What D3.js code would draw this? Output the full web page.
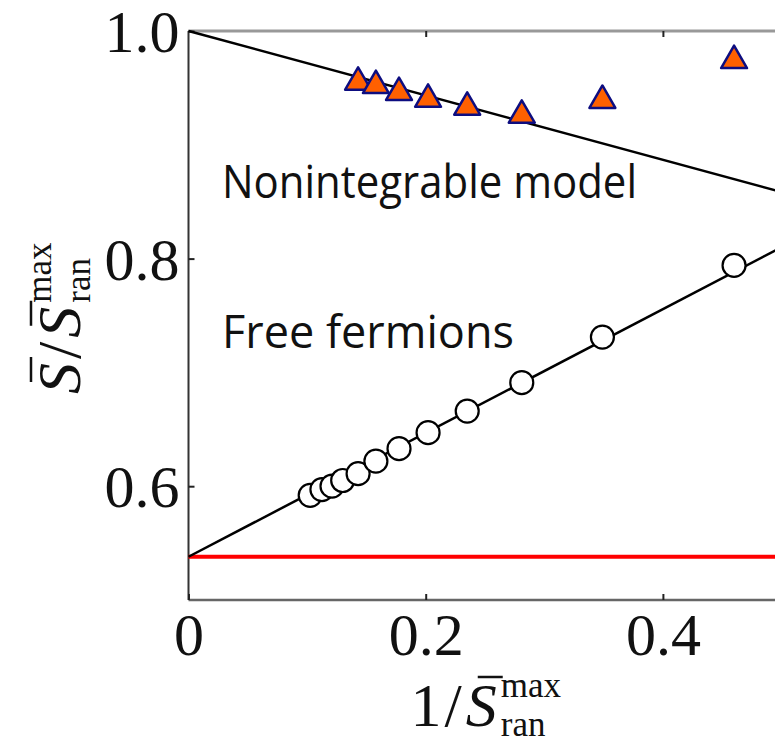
<!DOCTYPE html>
<html>
<head>
<meta charset="utf-8">
<script src="https://cdn.jsdelivr.net/npm/d3@7"></script>
<style>
  html, body { margin: 0; padding: 0; background: #fff; }
  svg { display: block; }
</style>
</head>
<body>
<div id="chart"></div>
<script>
// inverse of max random entropy, shared by both data sets
const invS = [0.1026, 0.1125, 0.121, 0.130, 0.143, 0.158, 0.1775, 0.202, 0.235, 0.281, 0.349, 0.460];
const freeFermions = [0.592, 0.597, 0.600, 0.605, 0.611, 0.622, 0.633, 0.647, 0.666, 0.691, 0.731, 0.794];

const invSNonint = [0.143, 0.158, 0.1775, 0.202, 0.235, 0.281, 0.349, 0.460];
const nonintegrable = [0.955, 0.952, 0.946, 0.940, 0.933, 0.926, 0.939, 0.974];

// linear fits (intercept, slope) and the random-state level
const fermionFit = [0.538, 0.544];
const nonintFit = [1.0, -0.283];
const randomLevel = 0.538;

const xTicks = [0, 0.2, 0.4];
const yTicks = [0.6, 0.8, 1.0];

const width = 775, height = 746;
const margins = {top: 31, left: 188.5, bottom: 146};

const svg = d3.select("#chart").append("svg")
  .attr("width", width)
  .attr("height", height);

const x = d3.scaleLinear().domain([0, 0.5]).range([margins.left, margins.left + 593]);
const y = d3.scaleLinear().domain([0.5, 1.0]).range([height - margins.bottom, margins.top]);

const serif = "'Liberation Serif', 'DejaVu Serif', serif";
const sans = "'Open Sans', 'DejaVu Sans', sans-serif";

// frame: top (light), bottom, left
svg.append("line")
  .attr("x1", x(0)).attr("x2", width).attr("y1", y(1.0)).attr("y2", y(1.0))
  .attr("stroke", "#999").attr("stroke-width", 3);
svg.append("line")
  .attr("x1", x(0)).attr("x2", width).attr("y1", y(0.5)).attr("y2", y(0.5))
  .attr("stroke", "#666").attr("stroke-width", 2.5);
svg.append("line")
  .attr("x1", x(0)).attr("x2", x(0)).attr("y1", y(1.0)).attr("y2", y(0.5))
  .attr("stroke", "#333").attr("stroke-width", 2);

// ticks pointing inward
const xAxisBottom = d3.axisBottom(x).tickValues(xTicks).tickSize(-6).tickFormat(d => d === 0 ? "0" : d3.format(".1f")(d));
svg.append("g")
  .attr("transform", `translate(0,${y(0.5)})`)
  .call(xAxisBottom)
  .call(g => g.select(".domain").remove())
  .call(g => g.selectAll(".tick line").attr("stroke", "#222").attr("stroke-width", 2))
  .call(g => g.selectAll(".tick text")
    .attr("dy", null).attr("y", 55)
    .style("font-family", serif).style("font-size", "60px").attr("fill", "#111"));

svg.append("g")
  .attr("transform", `translate(0,${y(1.0)})`)
  .call(d3.axisTop(x).tickValues(xTicks.filter(d => d > 0)).tickSize(-6).tickFormat(""))
  .call(g => g.select(".domain").remove())
  .call(g => g.selectAll(".tick line").attr("stroke", "#222").attr("stroke-width", 2));

svg.append("g")
  .attr("transform", `translate(${x(0)},0)`)
  .call(d3.axisLeft(y).tickValues(yTicks).tickSize(-6).tickFormat(d3.format(".1f")))
  .call(g => g.select(".domain").remove())
  .call(g => g.selectAll(".tick line").attr("stroke", "#222").attr("stroke-width", 2))
  .call(g => g.selectAll(".tick text")
    .attr("x", -9).attr("dy", "0.34em")
    .style("font-family", serif).style("font-size", "60px").attr("fill", "#111"));

// red reference level
svg.append("line")
  .attr("x1", x(0)).attr("x2", x(0.5))
  .attr("y1", y(randomLevel)).attr("y2", y(randomLevel))
  .attr("stroke", "#f00").attr("stroke-width", 4);

// fit lines
const fitLine = d3.line().x(d => x(d[0])).y(d => y(d[1]));
[fermionFit, nonintFit].forEach(f => {
  svg.append("path")
    .datum([[0, f[0]], [0.5, f[0] + 0.5 * f[1]]])
    .attr("d", fitLine)
    .attr("fill", "none").attr("stroke", "#000").attr("stroke-width", 2.5);
});

// free fermions circles
svg.selectAll("circle.ff")
  .data(invS.map((v, i) => [v, freeFermions[i]]))
  .enter().append("circle")
    .attr("class", "ff")
    .attr("cx", d => x(d[0])).attr("cy", d => y(d[1]))
    .attr("r", 11.5)
    .attr("fill", "#fff").attr("stroke", "#000").attr("stroke-width", 2.2);

// nonintegrable triangles
const tri = d3.symbol().type(d3.symbolTriangle).size(290);
svg.selectAll("path.ni")
  .data(invSNonint.map((v, i) => [v, nonintegrable[i]]))
  .enter().append("path")
    .attr("class", "ni")
    .attr("d", tri)
    .attr("transform", d => `translate(${x(d[0])},${y(d[1])})`)
    .attr("fill", "#ff6000").attr("stroke", "#0d0d80").attr("stroke-width", 2.5)
    .attr("stroke-linejoin", "round");

// annotations
svg.append("text")
  .attr("x", 222).attr("y", 198)
  .attr("textLength", 415).attr("lengthAdjust", "spacingAndGlyphs")
  .style("font-family", sans).style("font-size", "46px").attr("fill", "#111")
  .text("Nonintegrable model");
svg.append("text")
  .attr("x", 222).attr("y", 348)
  .attr("textLength", 292).attr("lengthAdjust", "spacingAndGlyphs")
  .style("font-family", sans).style("font-size", "46px").attr("fill", "#111")
  .text("Free fermions");

// axis titles built from pieces: big, italic S with bar, sup/sub
const big = 62, small = 35;
function barS(g, cx) {
  const s = g.append("text").attr("x", cx).attr("y", 0)
    .style("font-family", serif).style("font-style", "italic")
    .style("font-size", big + "px").attr("fill", "#111").text("S");
  const sw = s.node().getComputedTextLength();
  g.append("line").attr("x1", cx + 12).attr("x2", cx + sw + 6)
    .attr("y1", -49).attr("y2", -49).attr("stroke", "#111").attr("stroke-width", 2.5);
  return sw;
}
function plain(g, cx, txt) {
  const t = g.append("text").attr("x", cx).attr("y", 0)
    .style("font-family", serif).style("font-size", big + "px").attr("fill", "#111").text(txt);
  return t.node().getComputedTextLength();
}
function smaxTail(g, cx) {
  g.append("text").attr("x", cx).attr("y", -29)
    .style("font-family", serif).style("font-size", small + "px").attr("fill", "#111").text("max");
  g.append("text").attr("x", cx).attr("y", 10)
    .style("font-family", serif).style("font-size", small + "px").attr("fill", "#111").text("ran");
}

const xt = svg.append("g");
let cx = 0;
cx += plain(xt, cx, "1") + 3;
cx += plain(xt, cx, "/") + 4;
cx += barS(xt, cx) + 4;
smaxTail(xt, cx);
const xb = xt.node().getBBox();
xt.attr("transform", `translate(${486 - xb.width / 2},726)`);

const yt = svg.append("g");
cx = 0;
cx += barS(yt, cx) + 4;
cx += plain(yt, cx, "/") + 4;
cx += barS(yt, cx) + 4;
smaxTail(yt, cx);
const yb = yt.node().getBBox();
yt.attr("transform", `translate(80,${318 + yb.width / 2}) rotate(-90)`);
</script>
</body>
</html>
